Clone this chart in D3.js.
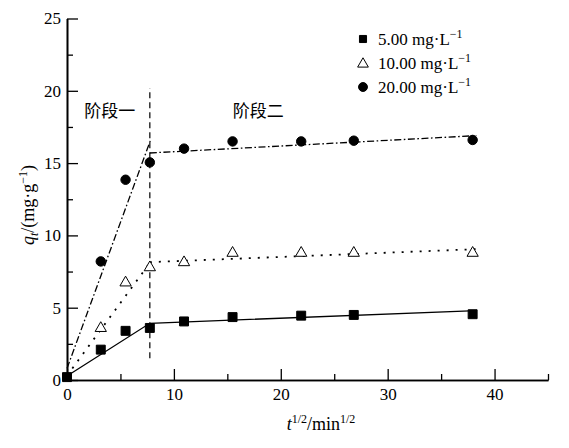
<!DOCTYPE html>
<html><head><meta charset="utf-8">
<script src="https://cdn.jsdelivr.net/npm/d3@7"></script>
<style>
html,body{margin:0;padding:0;background:#fff;}
svg text{font-family:"Liberation Serif","Times New Roman","DejaVu Serif",serif !important;fill:#000;}
svg text.stage{font-family:"Noto Sans CJK SC",sans-serif !important;}
</style></head>
<body><svg id="c" width="569" height="448"></svg>
<script>
// ---- data ----
const sqrtT = [0, 3.16, 5.48, 7.75, 10.95, 15.49, 21.91, 26.83, 37.95];
const q5  = [0.2, 2.1, 3.4, 3.6, 4.05, 4.35, 4.45, 4.5, 4.55];
const q10 = [null, 3.65, 6.8, 7.85, 8.2, 8.85, 8.85, 8.85, 8.85];
const q20 = [null, 8.2, 13.85, 15.05, 16.0, 16.5, 16.5, 16.55, 16.6];
const seriesNames = ["5.00 mg·L", "10.00 mg·L", "20.00 mg·L"];
const fit5  = [[0, 0.28], [7.75, 3.92], [38.3, 4.8]];
const fit10a = [[0, 0.3], [7.75, 8.1]];
const fit10b = [[7.75, 8.15], [38.3, 9.05]];
const fit20a = [[0, 0.8], [7.82, 16.6]];
const fit20b = [[7.75, 15.7], [38.3, 16.9]];
const stageDivider = {x: 7.75, y0: 1.5, y1: 20.2};
const stageLabels = [{text: "阶段一", x: 4.0, y: 18.2}, {text: "阶段二", x: 17.9, y: 18.2}];
const xTicks = [0, 10, 20, 30, 40];
const xMinor = [5, 15, 25, 35, 45];
const yTicks = [0, 5, 10, 15, 20, 25];
const yMinor = [2.5, 7.5, 12.5, 17.5, 22.5];

// ---- chart ----
const svg = d3.select("#c");
const x = d3.scaleLinear().domain([0, 45]).range([67, 548]);
const y = d3.scaleLinear().domain([0, 25]).range([380, 18.5]);

function styleAxis(g){
  g.attr("font-family", null).attr("font-size", null);
  g.selectAll("path.domain").attr("stroke","#000").attr("stroke-width",1.6);
  g.selectAll(".tick line").attr("stroke","#000").attr("stroke-width",1.3);
  g.selectAll("text").style("font-size","17px").attr("fill","#000");
}
// minor ticks
svg.append("g").attr("transform",`translate(0,380)`)
  .call(d3.axisBottom(x).tickValues(xMinor).tickSize(-6).tickSizeOuter(0).tickFormat(""))
  .call(styleAxis);
svg.append("g").attr("transform",`translate(67,0)`)
  .call(d3.axisLeft(y).tickValues(yMinor).tickSize(-6).tickSizeOuter(0).tickFormat(""))
  .call(styleAxis);
// major
svg.append("g").attr("transform",`translate(0,380)`)
  .call(d3.axisBottom(x).tickValues(xTicks).tickSize(-11).tickSizeOuter(0).tickPadding(8).tickFormat(d3.format("d")))
  .call(styleAxis);
svg.append("g").attr("transform",`translate(67,0)`)
  .call(d3.axisLeft(y).tickValues(yTicks).tickSize(-11).tickSizeOuter(0).tickPadding(6).tickFormat(d3.format("d")))
  .call(styleAxis);

const line = d3.line().x(d=>x(d[0])).y(d=>y(d[1]));
function drawLine(data, dash, w){
  svg.append("path").datum(data).attr("d", line).attr("fill","none")
    .attr("stroke","#000").attr("stroke-width",w||1.3)
    .attr("stroke-dasharray", dash);
}
drawLine(fit5, null);
drawLine(fit10a, "2,7", 1.8);
drawLine(fit10b, "2,7", 1.8);
drawLine(fit20a, "7,2.5,1.6,2.5");
drawLine(fit20b, "7,2.5,1.6,2.5");
svg.append("line")
  .attr("x1", x(stageDivider.x)).attr("x2", x(stageDivider.x))
  .attr("y1", y(stageDivider.y0)).attr("y2", y(stageDivider.y1))
  .attr("stroke","#000").attr("stroke-width",1.2).attr("stroke-dasharray","6,4");

// markers
const sq = d3.symbol().type(d3.symbolSquare).size(80);
const tri = d3.symbol().type(d3.symbolTriangle).size(55);
const cir = d3.symbol().type(d3.symbolCircle).size(70);
function pts(vals, sym, fill, dy){
  svg.append("g").selectAll("path").data(sqrtT.map((t,i)=>[t, vals[i]]).filter(d=>d[1]!==null))
    .join("path").attr("d", sym)
    .attr("transform", d=>`translate(${x(d[0])},${y(d[1])+(dy||0)})`)
    .attr("fill", fill).attr("stroke","#000").attr("stroke-width",1);
}
pts(q5, sq, "#000");
pts(q10, tri, "#fff", 1);
pts(q20, cir, "#000");

// stage labels
svg.selectAll("text.stage").data(stageLabels).join("text").attr("class","stage")
  .attr("x", d=>x(d.x)).attr("y", d=>y(d.y)).attr("text-anchor","middle")
  .style("font-size","17px")
  .text(d=>d.text);

// legend
const legSyms = [d3.symbol().type(d3.symbolSquare).size(50), d3.symbol().type(d3.symbolTriangle).size(50), d3.symbol().type(d3.symbolCircle).size(62)];
const legFill = ["#000","#fff","#000"];
const leg = svg.append("g");
seriesNames.forEach((n,i)=>{
  const cy = 39 + i*24;
  leg.append("path").attr("d", legSyms[i]).attr("transform",`translate(363,${cy + (i===1?1:0)})`)
    .attr("fill", legFill[i]).attr("stroke","#000").attr("stroke-width",1);
  const t = leg.append("text").attr("x", 378).attr("y", cy+6).style("font-size","17px");
  t.append("tspan").text(n);
  t.append("tspan").attr("dy",-7).style("font-size","12px").text("−1");
});

// axis titles
const xt = svg.append("text").attr("x", 321).attr("y", 430).attr("text-anchor","middle").style("font-size","18px");
xt.append("tspan").style("font-style","italic").text("t");
xt.append("tspan").attr("dy",-7).style("font-size","12px").text("1/2");
xt.append("tspan").attr("dy",7).text("/min");
xt.append("tspan").attr("dy",-7).style("font-size","12px").text("1/2");

const yt = svg.append("text").attr("transform","translate(34,205) rotate(-90)").attr("text-anchor","middle").style("font-size","18px");
yt.append("tspan").style("font-style","italic").text("q");
yt.append("tspan").attr("dy",4).style("font-style","italic").style("font-size","12px").text("t");
yt.append("tspan").attr("dy",-4).text("/(mg·g");
yt.append("tspan").attr("dy",-7).style("font-size","12px").text("−1");
yt.append("tspan").attr("dy",7).text(")");
</script></body></html>
